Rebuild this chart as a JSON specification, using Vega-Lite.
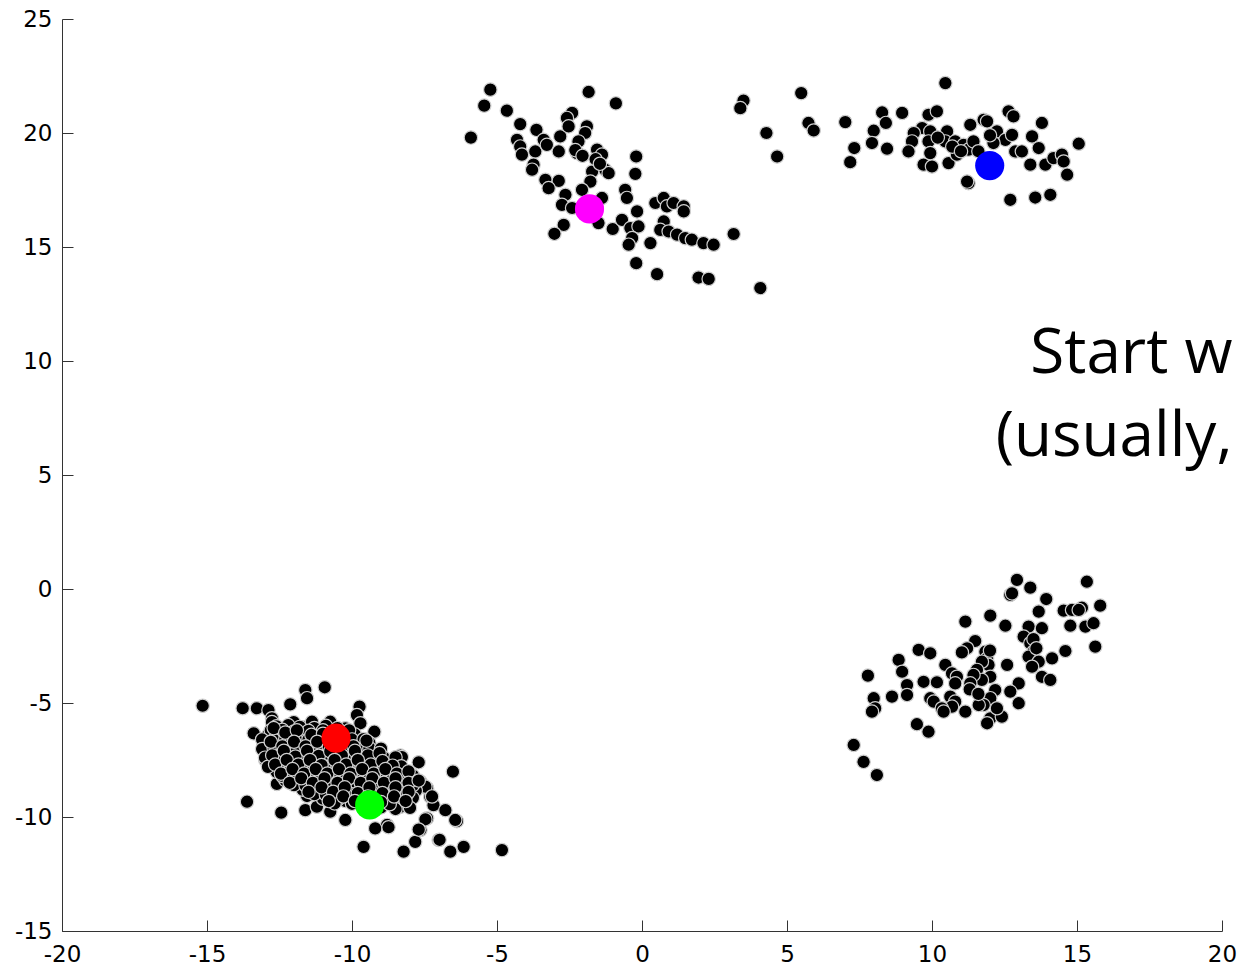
{
  "$schema": "https://vega.github.io/schema/vega-lite/v6.json",
  "width": 1160,
  "height": 912,
  "autosize": {"type": "none"},
  "padding": {"left": 62, "top": 19, "right": 17, "bottom": 37},
  "background": "white",
  "config": {
    "view": {"stroke": null},
    "axis": {
      "domainColor": "#333333", "tickColor": "#333333", "tickSize": -11,
      "domainWidth": 1, "tickWidth": 1, "grid": false,
      "labelFont": "DejaVu Sans", "labelFontSize": 23, "labelColor": "#000000",
      "labelFlush": false, "labelOverlap": false
    }
  },
  "datasets": {
    "pts": [
      {"x":-5.23,"y":21.90},{"x":-5.44,"y":21.20},{"x":-5.90,"y":19.80},{"x":-4.66,"y":20.98},{"x":-1.84,"y":21.80},{"x":-0.90,"y":21.30},{"x":-4.20,"y":20.39},{"x":-3.64,"y":20.14},{"x":-3.39,"y":19.70},{"x":-4.31,"y":19.70},{"x":-4.20,"y":19.41},{"x":-4.14,"y":19.05},{"x":-3.68,"y":19.19},{"x":-3.28,"y":19.48},{"x":-3.74,"y":18.61},{"x":-3.79,"y":18.39},{"x":-2.82,"y":19.85},{"x":-2.87,"y":19.19},{"x":-2.41,"y":20.88},{"x":-2.59,"y":20.66},{"x":-2.53,"y":20.29},{"x":-1.90,"y":20.29},{"x":-1.96,"y":20.00},{"x":-2.19,"y":19.63},{"x":-2.24,"y":19.12},{"x":-1.55,"y":19.27},{"x":-1.38,"y":19.05},{"x":-1.27,"y":18.39},{"x":-1.15,"y":18.24},{"x":-1.72,"y":18.31},{"x":-1.78,"y":17.87},{"x":-2.07,"y":17.51},{"x":-3.33,"y":17.95},{"x":-2.87,"y":17.90},{"x":-3.22,"y":17.58},{"x":-2.64,"y":17.29},{"x":-2.76,"y":16.85},{"x":-2.41,"y":16.71},{"x":-1.38,"y":17.15},{"x":-0.58,"y":17.51},{"x":-0.52,"y":17.15},{"x":-0.20,"y":18.97},{"x":-0.23,"y":18.21},{"x":-2.70,"y":15.97},{"x":-3.02,"y":15.58},{"x":-1.50,"y":16.05},{"x":-1.01,"y":15.79},{"x":-0.69,"y":16.19},{"x":-0.40,"y":15.83},{"x":-0.12,"y":15.90},{"x":-0.34,"y":15.39},{"x":-0.46,"y":15.10},{"x":-0.17,"y":16.56},{"x":0.29,"y":15.17},{"x":0.46,"y":16.93},{"x":0.75,"y":17.15},{"x":0.86,"y":16.78},{"x":1.09,"y":16.93},{"x":1.44,"y":16.78},{"x":1.44,"y":16.56},{"x":0.75,"y":16.12},{"x":0.63,"y":15.75},{"x":0.92,"y":15.68},{"x":1.21,"y":15.54},{"x":1.49,"y":15.39},{"x":1.72,"y":15.32},{"x":2.12,"y":15.17},{"x":2.47,"y":15.10},{"x":3.16,"y":15.57},{"x":-0.20,"y":14.29},{"x":0.52,"y":13.81},{"x":1.95,"y":13.66},{"x":2.30,"y":13.60},{"x":4.08,"y":13.20},{"x":3.50,"y":21.42},{"x":3.39,"y":21.09},{"x":4.29,"y":20.00},{"x":4.66,"y":18.97},
      {"x":-2.30,"y":19.25},{"x":-2.05,"y":19.00},{"x":-1.60,"y":18.85},{"x":-1.45,"y":18.65},
      {"x":5.49,"y":21.75},{"x":5.74,"y":20.44},{"x":5.92,"y":20.11},{"x":7.01,"y":20.48},{"x":7.32,"y":19.34},{"x":7.18,"y":18.72},{"x":8.28,"y":20.90},{"x":8.41,"y":20.44},{"x":8.97,"y":20.88},{"x":7.99,"y":20.10},{"x":7.93,"y":19.56},{"x":8.45,"y":19.31},{"x":10.46,"y":22.19},{"x":9.88,"y":20.80},{"x":10.17,"y":20.95},{"x":9.66,"y":20.22},{"x":9.37,"y":20.00},{"x":9.31,"y":19.63},{"x":9.19,"y":19.19},{"x":9.71,"y":18.61},{"x":10.00,"y":18.53},{"x":9.94,"y":20.07},{"x":9.88,"y":19.63},{"x":9.94,"y":19.12},{"x":10.52,"y":20.07},{"x":10.46,"y":19.63},{"x":10.57,"y":18.68},{"x":10.80,"y":19.63},{"x":10.86,"y":19.05},{"x":11.09,"y":19.48},{"x":11.26,"y":19.27},{"x":11.43,"y":19.63},{"x":11.32,"y":20.36},{"x":11.78,"y":20.58},{"x":11.90,"y":20.51},{"x":12.24,"y":20.07},{"x":12.53,"y":19.70},{"x":12.76,"y":19.92},{"x":12.64,"y":20.95},{"x":12.81,"y":20.73},{"x":11.26,"y":17.80},{"x":11.21,"y":17.87},{"x":12.70,"y":17.07},{"x":13.56,"y":17.17},{"x":14.08,"y":17.29},{"x":12.87,"y":19.19},{"x":13.10,"y":19.19},{"x":13.45,"y":19.85},{"x":13.79,"y":20.44},{"x":13.68,"y":19.34},{"x":13.39,"y":18.61},{"x":13.91,"y":18.61},{"x":14.19,"y":18.90},{"x":14.48,"y":19.05},{"x":14.54,"y":18.75},{"x":14.66,"y":18.17},{"x":15.06,"y":19.53},{"x":12.12,"y":19.56},
      {"x":10.20,"y":19.80},{"x":10.70,"y":19.40},{"x":11.00,"y":19.20},{"x":11.60,"y":19.20},{"x":12.00,"y":19.90},
      {"x":12.93,"y":0.40},{"x":13.39,"y":0.06},{"x":12.70,"y":-0.26},{"x":12.76,"y":-0.19},{"x":13.94,"y":-0.44},{"x":13.68,"y":-0.99},{"x":15.34,"y":0.32},{"x":15.80,"y":-0.73},{"x":14.54,"y":-0.95},{"x":14.83,"y":-0.92},{"x":15.17,"y":-0.82},{"x":15.06,"y":-0.92},{"x":14.77,"y":-1.61},{"x":15.29,"y":-1.65},{"x":15.57,"y":-1.50},{"x":15.63,"y":-2.53},{"x":12.01,"y":-1.17},{"x":11.15,"y":-1.43},{"x":12.53,"y":-1.61},{"x":13.33,"y":-1.65},{"x":13.79,"y":-1.72},{"x":13.16,"y":-2.09},{"x":13.39,"y":-2.38},{"x":13.50,"y":-2.75},{"x":13.33,"y":-2.97},{"x":13.68,"y":-3.19},{"x":13.45,"y":-3.41},{"x":14.60,"y":-2.72},{"x":14.14,"y":-3.04},{"x":13.79,"y":-3.85},{"x":14.08,"y":-3.99},{"x":11.49,"y":-2.28},{"x":11.21,"y":-2.60},{"x":11.03,"y":-2.78},{"x":11.84,"y":-2.75},{"x":11.90,"y":-3.04},{"x":11.95,"y":-3.33},{"x":11.72,"y":-3.19},{"x":11.55,"y":-3.55},{"x":12.59,"y":-3.33},{"x":12.99,"y":-4.14},{"x":12.70,"y":-4.50},{"x":12.99,"y":-5.01},{"x":12.01,"y":-3.85},{"x":11.72,"y":-3.99},{"x":11.43,"y":-3.77},{"x":11.32,"y":-4.14},{"x":10.46,"y":-3.33},{"x":10.69,"y":-3.70},{"x":10.86,"y":-3.85},{"x":10.80,"y":-4.14},{"x":10.63,"y":-4.72},{"x":10.80,"y":-4.94},{"x":10.69,"y":-5.16},{"x":11.15,"y":-5.38},{"x":9.54,"y":-2.67},{"x":9.94,"y":-2.82},{"x":8.85,"y":-3.11},{"x":8.97,"y":-3.63},{"x":7.79,"y":-3.80},{"x":9.14,"y":-4.21},{"x":9.14,"y":-4.65},{"x":9.71,"y":-4.07},{"x":10.17,"y":-4.09},{"x":9.94,"y":-4.79},{"x":10.06,"y":-4.94},{"x":10.34,"y":-5.23},{"x":10.40,"y":-5.38},{"x":8.62,"y":-4.72},{"x":7.99,"y":-4.79},{"x":8.04,"y":-5.23},{"x":7.93,"y":-5.38},{"x":9.48,"y":-5.93},{"x":9.88,"y":-6.26},{"x":12.18,"y":-4.43},{"x":12.01,"y":-4.79},{"x":11.78,"y":-5.09},{"x":12.01,"y":-5.67},{"x":12.41,"y":-5.60},{"x":11.90,"y":-5.89},{"x":12.24,"y":-5.23},{"x":11.61,"y":-5.09},{"x":7.30,"y":-6.84},{"x":7.64,"y":-7.58},{"x":8.10,"y":-8.16},
      {"x":11.30,"y":-4.40},{"x":11.60,"y":-4.60},{"x":13.50,"y":-2.20},{"x":13.60,"y":-2.60},{"x":12.00,"y":-2.70},
      {"x":-15.15,"y":-5.12},{"x":-13.77,"y":-5.23},{"x":-13.28,"y":-5.23},{"x":-12.88,"y":-5.31},{"x":-12.76,"y":-5.67},{"x":-12.13,"y":-5.06},{"x":-11.61,"y":-4.43},{"x":-11.55,"y":-4.79},{"x":-10.94,"y":-4.31},{"x":-13.39,"y":-6.33},{"x":-13.62,"y":-9.33},{"x":-12.44,"y":-9.81},{"x":-11.61,"y":-9.70},{"x":-11.21,"y":-9.55},{"x":-10.75,"y":-9.77},{"x":-10.23,"y":-10.13},{"x":-10.75,"y":-5.82},{"x":-10.23,"y":-6.11},{"x":-9.74,"y":-5.16},{"x":-9.83,"y":-5.53},{"x":-9.71,"y":-5.89},{"x":-9.23,"y":-6.26},{"x":-9.02,"y":-7.21},{"x":-8.33,"y":-7.31},{"x":-7.70,"y":-7.60},{"x":-6.52,"y":-8.01},{"x":-8.39,"y":-8.01},{"x":-7.93,"y":-8.16},{"x":-7.64,"y":-8.45},{"x":-7.41,"y":-8.74},{"x":-7.30,"y":-9.11},{"x":-7.19,"y":-9.48},{"x":-6.78,"y":-9.70},{"x":-6.38,"y":-10.18},{"x":-7.41,"y":-10.06},{"x":-7.64,"y":-10.57},{"x":-7.82,"y":-11.09},{"x":-8.22,"y":-11.52},{"x":-7.01,"y":-11.01},{"x":-6.61,"y":-11.52},{"x":-6.15,"y":-11.31},{"x":-4.83,"y":-11.45},{"x":-9.60,"y":-11.31},{"x":-8.79,"y":-10.35},{"x":-9.20,"y":-10.50},{"x":-12.76,"y":-5.84},{"x":-12.01,"y":-5.84},{"x":-11.61,"y":-6.06},{"x":-11.38,"y":-5.82},{"x":-12.93,"y":-6.78},{"x":-12.99,"y":-7.50},{"x":-12.59,"y":-8.55},{"x":-11.95,"y":-8.55},{"x":-8.51,"y":-8.40},{"x":-8.74,"y":-8.84},{"x":-8.57,"y":-9.35},{"x":-8.74,"y":-10.45},{"x":-11.55,"y":-9.08},{"x":-10.80,"y":-9.08},{"x":-10.23,"y":-9.30},{"x":-8.28,"y":-7.37},{"x":-7.47,"y":-8.67},{"x":-7.24,"y":-9.10},{"x":-6.44,"y":-10.13},{"x":-7.47,"y":-10.10},{"x":-7.70,"y":-10.55},{"x":-6.98,"y":-11.00},{"x":-8.33,"y":-9.55},{"x":-8.05,"y":-9.40},
      {"x":-12.6,"y":-6.02},{"x":-12.2,"y":-5.97},{"x":-11.8,"y":-6.05},{"x":-11.3,"y":-6.10},{"x":-10.9,"y":-6.00},
      {"x":-12.9,"y":-6.42},{"x":-12.5,"y":-6.38},{"x":-12.1,"y":-6.45},{"x":-11.7,"y":-6.35},{"x":-11.2,"y":-6.44},{"x":-10.8,"y":-6.40},{"x":-10.3,"y":-6.50},{"x":-9.9,"y":-6.38},
      {"x":-13.0,"y":-6.85},{"x":-12.6,"y":-6.80},{"x":-12.2,"y":-6.78},{"x":-11.9,"y":-6.88},{"x":-11.4,"y":-6.82},{"x":-11.0,"y":-6.76},{"x":-10.6,"y":-6.86},{"x":-10.2,"y":-6.80},{"x":-9.7,"y":-6.90},{"x":-9.4,"y":-6.75},
      {"x":-12.9,"y":-7.22},{"x":-12.5,"y":-7.18},{"x":-12.1,"y":-7.25},{"x":-11.7,"y":-7.15},{"x":-11.3,"y":-7.20},{"x":-10.9,"y":-7.28},{"x":-10.5,"y":-7.17},{"x":-10.0,"y":-7.22},{"x":-9.6,"y":-7.30},{"x":-9.3,"y":-7.15},
      {"x":-12.8,"y":-7.62},{"x":-12.4,"y":-7.55},{"x":-12.0,"y":-7.65},{"x":-11.6,"y":-7.58},{"x":-11.1,"y":-7.60},{"x":-10.7,"y":-7.68},{"x":-10.3,"y":-7.55},{"x":-9.9,"y":-7.62},{"x":-9.5,"y":-7.70},{"x":-9.1,"y":-7.58},{"x":-8.7,"y":-7.65},
      {"x":-12.6,"y":-8.02},{"x":-12.2,"y":-7.95},{"x":-11.8,"y":-8.05},{"x":-11.4,"y":-7.98},{"x":-11.0,"y":-8.06},{"x":-10.5,"y":-8.00},{"x":-10.1,"y":-7.94},{"x":-9.7,"y":-8.08},{"x":-9.3,"y":-8.00},{"x":-8.9,"y":-8.05},{"x":-8.5,"y":-7.96},
      {"x":-12.3,"y":-8.38},{"x":-11.9,"y":-8.42},{"x":-11.5,"y":-8.35},{"x":-11.1,"y":-8.45},{"x":-10.6,"y":-8.40},{"x":-10.2,"y":-8.36},{"x":-9.8,"y":-8.44},{"x":-9.4,"y":-8.38},{"x":-9.0,"y":-8.45},{"x":-8.6,"y":-8.40},{"x":-8.1,"y":-8.35},
      {"x":-11.7,"y":-8.80},{"x":-11.2,"y":-8.76},{"x":-10.8,"y":-8.85},{"x":-10.4,"y":-8.78},{"x":-9.9,"y":-8.82},{"x":-9.5,"y":-8.75},{"x":-9.1,"y":-8.86},{"x":-8.7,"y":-8.80},{"x":-8.2,"y":-8.78},{"x":-7.8,"y":-8.85},
      {"x":-11.0,"y":-9.20},{"x":-10.5,"y":-9.25},{"x":-10.1,"y":-9.15},{"x":-9.7,"y":-9.22},{"x":-9.2,"y":-9.18},{"x":-8.8,"y":-9.25},{"x":-8.3,"y":-9.20},{"x":-7.9,"y":-9.16},
      {"x":-9.4,"y":-9.62},{"x":-9.0,"y":-9.58},{"x":-8.5,"y":-9.65},{"x":-8.0,"y":-9.60},
      {"x":-12.8,"y":-6.20},{"x":-12.4,"y":-6.18},{"x":-12.0,"y":-6.25},{"x":-11.5,"y":-6.22},{"x":-11.0,"y":-6.20},{"x":-10.6,"y":-6.25},{"x":-10.1,"y":-6.20},
      {"x":-13.1,"y":-6.60},{"x":-12.7,"y":-6.62},{"x":-12.3,"y":-6.58},{"x":-11.9,"y":-6.65},{"x":-11.5,"y":-6.60},{"x":-11.1,"y":-6.58},{"x":-10.7,"y":-6.64},{"x":-10.0,"y":-6.60},{"x":-9.6,"y":-6.58},
      {"x":-13.1,"y":-7.02},{"x":-12.7,"y":-6.98},{"x":-12.3,"y":-7.05},{"x":-11.9,"y":-7.00},{"x":-11.5,"y":-7.02},{"x":-11.1,"y":-6.98},{"x":-10.7,"y":-7.04},{"x":-10.3,"y":-7.00},{"x":-9.8,"y":-7.02},{"x":-9.4,"y":-6.98},{"x":-9.0,"y":-7.00},
      {"x":-13.0,"y":-7.40},{"x":-12.6,"y":-7.42},{"x":-12.2,"y":-7.38},{"x":-11.8,"y":-7.40},{"x":-11.4,"y":-7.44},{"x":-11.0,"y":-7.40},{"x":-10.6,"y":-7.36},{"x":-10.2,"y":-7.42},{"x":-9.8,"y":-7.40},{"x":-9.4,"y":-7.46},{"x":-8.9,"y":-7.40},{"x":-8.5,"y":-7.38},
      {"x":-12.9,"y":-7.80},{"x":-12.5,"y":-7.82},{"x":-12.1,"y":-7.78},{"x":-11.7,"y":-7.80},{"x":-11.3,"y":-7.84},{"x":-10.9,"y":-7.80},{"x":-10.5,"y":-7.76},{"x":-10.1,"y":-7.82},{"x":-9.7,"y":-7.80},{"x":-9.3,"y":-7.84},{"x":-8.9,"y":-7.80},{"x":-8.3,"y":-7.78},
      {"x":-12.4,"y":-8.20},{"x":-12.0,"y":-8.22},{"x":-11.6,"y":-8.18},{"x":-11.2,"y":-8.20},{"x":-10.8,"y":-8.24},{"x":-10.4,"y":-8.20},{"x":-10.0,"y":-8.16},{"x":-9.6,"y":-8.22},{"x":-9.2,"y":-8.20},{"x":-8.8,"y":-8.24},{"x":-8.4,"y":-8.20},{"x":-7.9,"y":-8.18},
      {"x":-12.0,"y":-8.60},{"x":-11.6,"y":-8.62},{"x":-11.3,"y":-8.58},{"x":-10.9,"y":-8.60},{"x":-10.4,"y":-8.64},{"x":-10.0,"y":-8.60},{"x":-9.6,"y":-8.56},{"x":-9.2,"y":-8.62},{"x":-8.8,"y":-8.60},{"x":-8.4,"y":-8.64},{"x":-7.9,"y":-8.60},
      {"x":-11.3,"y":-9.00},{"x":-10.9,"y":-9.02},{"x":-10.4,"y":-8.98},{"x":-10.0,"y":-9.00},{"x":-9.6,"y":-9.04},{"x":-9.2,"y":-9.00},{"x":-8.6,"y":-9.02},{"x":-8.1,"y":-8.98},
      {"x":-10.6,"y":-9.40},{"x":-10.0,"y":-9.42},{"x":-9.6,"y":-9.38},{"x":-9.1,"y":-9.40},{"x":-8.7,"y":-9.44},
      {"x":-12.7,"y":-6.10},{"x":-12.3,"y":-6.30},{"x":-11.9,"y":-6.20},{"x":-11.4,"y":-6.40},{"x":-11.0,"y":-6.35},{"x":-10.5,"y":-6.10},
      {"x":-12.8,"y":-6.70},{"x":-12.4,"y":-6.90},{"x":-12.0,"y":-6.70},{"x":-11.6,"y":-6.90},{"x":-11.2,"y":-6.70},{"x":-10.8,"y":-6.95},{"x":-10.4,"y":-6.70},{"x":-9.95,"y":-6.90},{"x":-9.5,"y":-6.65},
      {"x":-12.75,"y":-7.30},{"x":-12.35,"y":-7.10},{"x":-11.95,"y":-7.35},{"x":-11.55,"y":-7.10},{"x":-11.15,"y":-7.32},{"x":-10.75,"y":-7.12},{"x":-10.35,"y":-7.30},{"x":-9.9,"y":-7.10},{"x":-9.45,"y":-7.30},{"x":-9.05,"y":-7.20},
      {"x":-12.65,"y":-7.70},{"x":-12.25,"y":-7.50},{"x":-11.85,"y":-7.70},{"x":-11.45,"y":-7.50},{"x":-11.05,"y":-7.72},{"x":-10.6,"y":-7.50},{"x":-10.2,"y":-7.70},{"x":-9.8,"y":-7.50},{"x":-9.35,"y":-7.70},{"x":-8.95,"y":-7.55},{"x":-8.6,"y":-7.75},
      {"x":-12.45,"y":-8.10},{"x":-12.05,"y":-7.90},{"x":-11.65,"y":-8.10},{"x":-11.25,"y":-7.90},{"x":-10.85,"y":-8.10},{"x":-10.45,"y":-7.90},{"x":-10.05,"y":-8.10},{"x":-9.65,"y":-7.90},{"x":-9.25,"y":-8.10},{"x":-8.85,"y":-7.90},{"x":-8.45,"y":-8.10},{"x":-8.05,"y":-8.00},
      {"x":-12.15,"y":-8.50},{"x":-11.75,"y":-8.30},{"x":-11.35,"y":-8.50},{"x":-10.95,"y":-8.30},{"x":-10.5,"y":-8.50},{"x":-10.1,"y":-8.30},{"x":-9.7,"y":-8.50},{"x":-9.3,"y":-8.30},{"x":-8.9,"y":-8.50},{"x":-8.5,"y":-8.30},{"x":-8.05,"y":-8.50},{"x":-7.7,"y":-8.40},
      {"x":-11.5,"y":-8.90},{"x":-11.05,"y":-8.70},{"x":-10.65,"y":-8.90},{"x":-10.25,"y":-8.70},{"x":-9.8,"y":-8.95},{"x":-9.4,"y":-8.70},{"x":-8.95,"y":-8.95},{"x":-8.5,"y":-8.70},{"x":-8.05,"y":-8.90},
      {"x":-10.8,"y":-9.30},{"x":-10.3,"y":-9.10},{"x":-9.9,"y":-9.30},{"x":-9.45,"y":-9.10},{"x":-9.0,"y":-9.35},{"x":-8.55,"y":-9.10},{"x":-8.15,"y":-9.30}
    ],
    "centers": [
      {"x":-10.55,"y":-6.54,"c":"#ff0000"},
      {"x":-9.39,"y":-9.47,"c":"#00ff00"},
      {"x":-1.81,"y":16.67,"c":"#ff00ff"},
      {"x":11.99,"y":18.57,"c":"#0000ff"}
    ],
    "labels": [
      {"x":20.36,"y":9.47,"t":"Start w"},
      {"x":20.36,"y":5.85,"t":"(usually,"}
    ]
  },
  "encoding": {
    "x": {"field": "x", "type": "quantitative", "title": null,
      "scale": {"domain": [-20, 20], "nice": false, "zero": false},
      "axis": {"values": [-20,-15,-10,-5,0,5,10,15,20], "labelPadding": 23,
        "labelExpr": "datum.value < 0 ? '-' + abs(datum.value) : '' + datum.value",
        "encode": {"labels": {"update": {"dx": {"signal": "datum.value < 0 ? -4 : 0"}}}}}},
    "y": {"field": "y", "type": "quantitative", "title": null,
      "scale": {"domain": [-15, 25], "nice": false, "zero": false},
      "axis": {"values": [-15,-10,-5,0,5,10,15,20,25], "labelPadding": 21,
        "labelExpr": "datum.value < 0 ? '-' + abs(datum.value) : '' + datum.value"}}
  },
  "layer": [
    {
      "data": {"name": "pts"},
      "mark": {"type": "circle", "size": 180, "fill": "#000000", "stroke": "#d0d0d0", "strokeWidth": 1.2, "opacity": 1}
    },
    {
      "data": {"name": "centers"},
      "mark": {"type": "circle", "size": 850, "opacity": 1},
      "encoding": {"color": {"field": "c", "type": "nominal", "scale": null}}
    },
    {
      "data": {"name": "labels"},
      "mark": {"type": "text", "align": "right", "baseline": "alphabetic", "font": "Open Sans", "fontSize": 62, "color": "#000000"},
      "encoding": {"text": {"field": "t"}}
    }
  ]
}
